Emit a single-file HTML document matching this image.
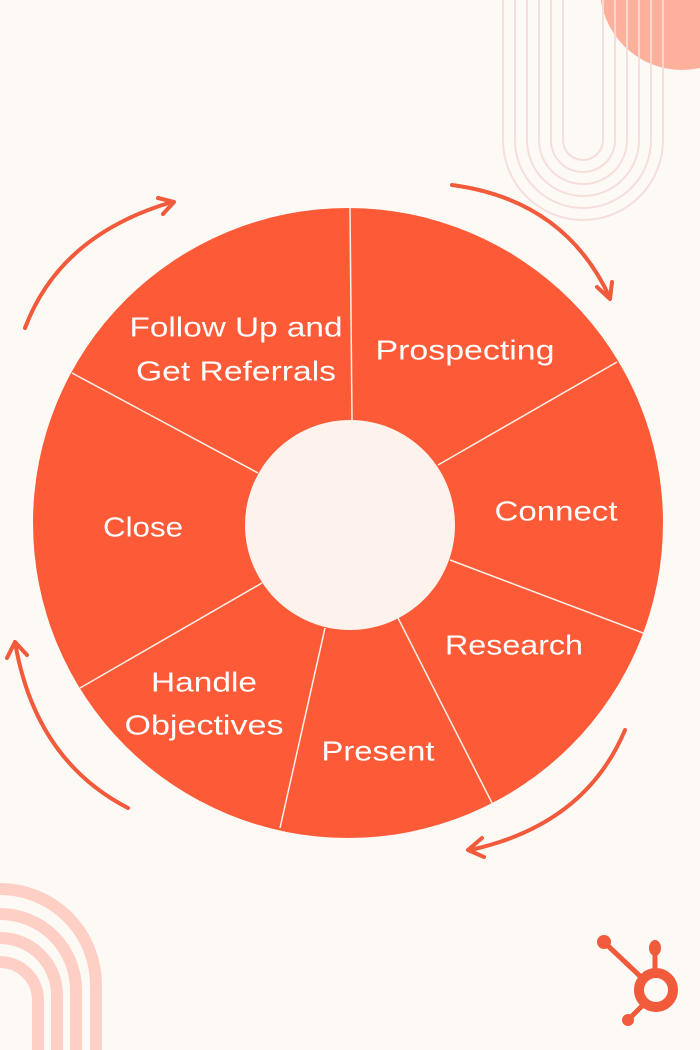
<!DOCTYPE html>
<html><head><meta charset="utf-8"><style>
html,body{margin:0;padding:0;background:#fdf9f5;}
svg{display:block}
text{font-family:"Liberation Sans",sans-serif;font-size:28px;fill:#fff;text-anchor:middle;dominant-baseline:middle}
</style></head><body>
<svg width="700" height="1050" viewBox="0 0 700 1050">
<rect width="700" height="1050" fill="#fdf9f5"/>
<circle cx="682" cy="-12" r="82" fill="#fdb09b"/>
<g fill="none" stroke="#f6dcd8" stroke-width="2" opacity="0.9">
<path d="M503 0V140A80 80 0 0 0 663 140V0"/>
<path d="M515 0V140A68 68 0 0 0 651 140V0"/>
<path d="M527 0V140A56 56 0 0 0 639 140V0"/>
<path d="M539 0V140A44 44 0 0 0 627 140V0"/>
<path d="M551 0V140A32 32 0 0 0 615 140V0"/>
<path d="M563 0V140A20 20 0 0 0 603 140V0"/>
</g>
<g fill="none" stroke="#fdcfc5" stroke-width="12">
<path d="M96 1050V985A96 96 0 0 0 -96 985"/>
<path d="M76 1050V990A76 76 0 0 0 -76 990"/>
<path d="M57 1050V995A57 57 0 0 0 -57 995"/>
<path d="M38 1050V1000A38 38 0 0 0 -38 1000"/>
</g>
<circle cx="348" cy="523" r="315" fill="#fd5b37"/>
<g stroke="#fdf0e8" stroke-width="1.5">
<line x1="350" y1="208" x2="352" y2="420"/>
<line x1="617" y1="362" x2="438" y2="465"/>
<line x1="643" y1="633" x2="450" y2="560"/>
<line x1="492" y1="803" x2="398" y2="618"/>
<line x1="280" y1="828" x2="325" y2="628"/>
<line x1="80" y1="688" x2="262" y2="583"/>
<line x1="72" y1="373" x2="258" y2="473"/>
</g>
<circle cx="350" cy="525" r="105" fill="#fdf3ec"/>
<text x="236" y="329" textLength="213" lengthAdjust="spacingAndGlyphs">Follow Up and</text>
<text x="236" y="373" textLength="200" lengthAdjust="spacingAndGlyphs">Get Referrals</text>
<text x="465" y="352" textLength="179" lengthAdjust="spacingAndGlyphs">Prospecting</text>
<text x="556" y="513" textLength="123" lengthAdjust="spacingAndGlyphs">Connect</text>
<text x="514" y="647" textLength="138" lengthAdjust="spacingAndGlyphs">Research</text>
<text x="378" y="753" textLength="113" lengthAdjust="spacingAndGlyphs">Present</text>
<text x="204" y="684" textLength="106" lengthAdjust="spacingAndGlyphs">Handle</text>
<text x="204" y="727" textLength="159" lengthAdjust="spacingAndGlyphs">Objectives</text>
<text x="143" y="529" textLength="80" lengthAdjust="spacingAndGlyphs">Close</text>
<g fill="none" stroke="#f15a3a" stroke-width="4" stroke-linecap="round" stroke-linejoin="round">
<path d="M25 328Q60 235 172 202"/>
<path d="M158 198L174 202L163 214"/>
<path d="M452 185Q565 200 610 298"/>
<path d="M597 287L610 299L612 282"/>
<path d="M625 730Q585 825 470 850"/>
<path d="M482 838L468 850L484 857"/>
<path d="M128 808Q35 760 15 642"/>
<path d="M7 658L15 642L27 655"/>
</g>
<g fill="#f15a3a" stroke="#f15a3a">
<circle cx="656" cy="990" r="17" fill="none" stroke-width="10"/>
<line x1="655" y1="952" x2="655" y2="972" stroke-width="5"/>
<ellipse cx="655" cy="948" rx="6" ry="8" stroke="none"/>
<line x1="605" y1="943" x2="642" y2="978" stroke-width="5"/>
<circle cx="604" cy="942" r="7" stroke="none"/>
<line x1="630" y1="1018" x2="645" y2="1003" stroke-width="5"/>
<circle cx="628" cy="1020" r="6" stroke="none"/>
</g>
</svg>
</body></html>
